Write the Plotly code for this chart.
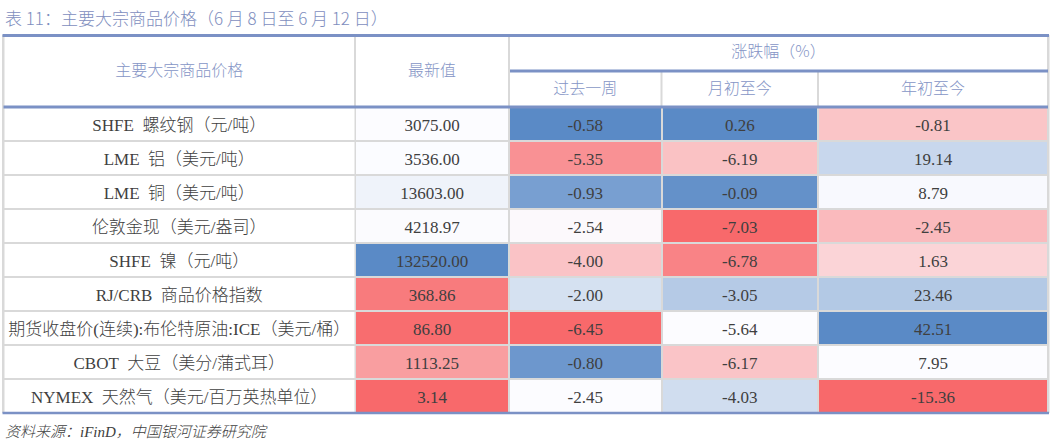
import plotly.graph_objects as go
import numpy as np

# ---------------- data ----------------
title_text = "表 11：主要大宗商品价格（6 月 8 日至 6 月 12 日）"
source_text = "资料来源：iFinD，中国银河证券研究院"
header_name = "主要大宗商品价格"
header_latest = "最新值"
header_group = "涨跌幅（%）"
header_periods = ["过去一周", "月初至今", "年初至今"]

names = [
    "SHFE\u00a0 螺纹钢（元/吨）",
    "LME\u00a0 铝（美元/吨）",
    "LME\u00a0 铜（美元/吨）",
    "伦敦金现（美元/盎司）",
    "SHFE\u00a0 镍（元/吨）",
    "RJ/CRB\u00a0 商品价格指数",
    "期货收盘价(连续):布伦特原油:ICE（美元/桶）",
    "CBOT\u00a0 大豆（美分/蒲式耳）",
    "NYMEX\u00a0 天然气（美元/百万英热单位）",
]
latest = [3075.00, 3536.00, 13603.00, 4218.97, 132520.00, 368.86, 86.80, 1113.25, 3.14]
week = [-0.58, -5.35, -0.93, -2.54, -4.00, -2.00, -6.45, -0.80, -2.45]
mtd = [0.26, -6.19, -0.09, -7.03, -6.78, -3.05, -5.64, -6.17, -4.03]
ytd = [-0.81, 19.14, 8.79, -2.45, 1.63, 23.46, 42.51, 7.95, -15.36]

# ---------------- layout constants ----------------
W, H = 1052, 442
COL_EDGES = [3.5, 355, 509, 661.5, 818, 1048]
ROW_TOP = 107
ROW_H = 34
HDR_TOP = 35
HDR_MID = 71
TEXT_DY = 2.5
n_rows = len(names)
row_edges = [ROW_TOP + i * ROW_H for i in range(n_rows + 1)]
row_centers = [ROW_TOP + (i + 0.5) * ROW_H + TEXT_DY for i in range(n_rows)]
col_centers = [(COL_EDGES[i] + COL_EDGES[i + 1]) / 2 for i in range(len(COL_EDGES) - 1)]
TABLE_BOTTOM = row_edges[-1]

BLUE_LINE = "#7B91C5"
GRID = "#D9D9D9"
HDR_COLOR = "#8595C6"
TXT = "#3F3F3F"
SERIF = "Liberation Serif, Noto Sans CJK SC, serif"
SANS = "Noto Sans CJK SC, sans-serif"


# Excel-like 3 colour scale (min red, 50th percentile white, max blue), per column
def scale_col(vals):
    v = np.array(vals, dtype=float)
    lo, hi, mid = v.min(), v.max(), np.percentile(v, 50)
    out = np.where(v >= mid, (v - mid) / (hi - mid), (v - mid) / (mid - lo))
    return out


value_cols = [latest, week, mtd, ytd]
z = np.column_stack([scale_col(c) for c in value_cols])

fig = go.Figure()

# grid background (borders show through heatmap gaps)
fig.add_shape(type="rect", x0=COL_EDGES[0] - 1.5, x1=COL_EDGES[-1] + 1.5, y0=HDR_TOP, y1=TABLE_BOTTOM,
              fillcolor=GRID, line_width=0, layer="below")
# header white cells
hdr_cells = [
    (COL_EDGES[0], COL_EDGES[1], HDR_TOP, ROW_TOP),
    (COL_EDGES[1], COL_EDGES[2], HDR_TOP, ROW_TOP),
    (COL_EDGES[2], COL_EDGES[5], HDR_TOP, HDR_MID),
    (COL_EDGES[2], COL_EDGES[3], HDR_MID, ROW_TOP),
    (COL_EDGES[3], COL_EDGES[4], HDR_MID, ROW_TOP),
    (COL_EDGES[4], COL_EDGES[5], HDR_MID, ROW_TOP),
]
for x0, x1, y0, y1 in hdr_cells:
    fig.add_shape(type="rect", x0=x0 + 1, x1=x1 - 1, y0=y0, y1=y1,
                  fillcolor="white", line_width=0, layer="below")

# name column (white cells)
fig.add_trace(go.Heatmap(
    x=COL_EDGES[0:2], y=row_edges, z=[[0] for _ in names],
    colorscale=[[0, "#FFFFFF"], [1, "#FFFFFF"]], showscale=False,
    xgap=2, ygap=2, hoverinfo="skip"))

# value columns (colour scale)
fig.add_trace(go.Heatmap(
    x=COL_EDGES[1:], y=row_edges, z=z,
    colorscale=[[0, "#F8696B"], [0.5, "#FCFCFF"], [1, "#5A8AC6"]],
    zmin=-1, zmax=1, showscale=False, xgap=2, ygap=2, hoverinfo="skip"))

# texts in body
body_font = dict(family=SERIF, size=17, color=TXT, weight=300)
fig.add_trace(go.Scatter(
    x=[col_centers[0]] * n_rows, y=row_centers, text=names, mode="text",
    textfont=body_font, hoverinfo="skip", showlegend=False))
for j, col in enumerate(value_cols):
    fig.add_trace(go.Scatter(
        x=[col_centers[j + 1]] * n_rows, y=row_centers, text=[f"{v:.2f}" for v in col],
        mode="text", textfont=body_font, hoverinfo="skip", showlegend=False))

# header texts
hdr_font = dict(family=SANS, size=16, color=HDR_COLOR, weight=300)
fig.add_trace(go.Scatter(
    x=[col_centers[0], col_centers[1], (COL_EDGES[2] + COL_EDGES[5]) / 2] + col_centers[2:],
    y=[(HDR_TOP + ROW_TOP) / 2 + 1, (HDR_TOP + ROW_TOP) / 2 + 1, (HDR_TOP + HDR_MID) / 2]
      + [(HDR_MID + ROW_TOP) / 2 + 1] * 3,
    text=[header_name, header_latest, header_group] + header_periods,
    mode="text", textfont=hdr_font, hoverinfo="skip", showlegend=False))

# blue rules
for x0, x1, y, w in [(COL_EDGES[0] - 1, COL_EDGES[-1] + 1, HDR_TOP + 0.5, 3),
                     (COL_EDGES[2] + 1, COL_EDGES[-1], HDR_MID, 3),
                     (COL_EDGES[0], COL_EDGES[-1], ROW_TOP, 3),
                     (COL_EDGES[0] - 1, COL_EDGES[-1] + 1, TABLE_BOTTOM, 2.5)]:
    fig.add_shape(type="line", x0=x0, x1=x1, y0=y, y1=y, line=dict(color=BLUE_LINE, width=w))

# title and source
fig.add_annotation(x=3, y=17, xref="x", yref="y", text=title_text, showarrow=False,
                   xanchor="left", yanchor="middle",
                   font=dict(family=SANS, size=17, color="#7E8EBE", weight=300))
fig.add_annotation(x=3, y=432, xref="x", yref="y", text=source_text, showarrow=False,
                   xanchor="left", yanchor="middle",
                   font=dict(family=SERIF, size=15, color="#404040", style="italic", weight=300))

fig.update_layout(
    width=W, height=H, margin=dict(l=0, r=0, t=0, b=0),
    paper_bgcolor="white", plot_bgcolor="white", showlegend=False,
    xaxis=dict(range=[0, W], visible=False, fixedrange=True),
    yaxis=dict(range=[H, 0], visible=False, fixedrange=True),
)

fig.write_html("out.html", config={"displayModeBar": False},
               post_script="document.body.style.margin='0';document.body.style.overflow='hidden';")
